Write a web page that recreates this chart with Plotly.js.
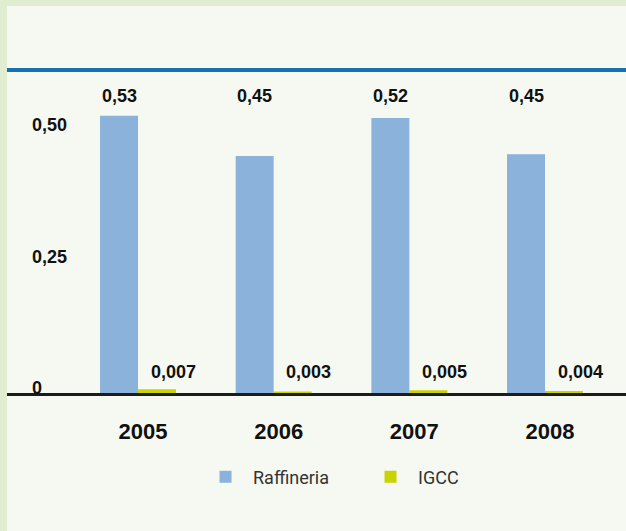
<!DOCTYPE html>
<html><head><meta charset="utf-8">
<script src="https://cdn.plot.ly/plotly-3.0.1.min.js"></script>
<style>
html,body{margin:0;padding:0;background:#e0edd1;width:626px;height:531px;overflow:hidden}
#chart{position:absolute;left:7px;top:6px;width:619px;height:525px}
</style></head>
<body><div id="chart"></div>
<script>
const years = ['2005', '2006', '2007', '2008'];
const raffineria = [0.526, 0.450, 0.522, 0.453];
const igcc = [0.007, 0.003, 0.005, 0.004];
const raffineriaLabels = ['0,53', '0,45', '0,52', '0,45'];
const igccLabels = ['0,007', '0,003', '0,005', '0,004'];
const yTickVals = [0, 0.25, 0.5];
const yTickText = ['0', '0,25', '0,50'];
const seriesNames = ['Raffineria', 'IGCC'];

const boldFont = 'Liberation Sans, Arial, sans-serif';

const traces = [
  {type: 'bar', name: seriesNames[0], x: years, y: raffineria,
   marker: {color: '#8ab2db'}, hoverinfo: 'skip'},
  {type: 'bar', name: seriesNames[1], x: years, y: igcc,
   marker: {color: '#c9d300'}, hoverinfo: 'skip'}
];

const annotations = [];
years.forEach((yr, i) => {
  annotations.push({x: i, xref: 'x', y: 0.921, yref: 'paper', yanchor: 'middle',
    text: '<b>' + raffineriaLabels[i] + '</b>', showarrow: false, xshift: -19,
    font: {family: boldFont, size: 18, color: '#111111'}});
  annotations.push({x: i, xref: 'x', y: 0.065, yref: 'paper', yanchor: 'middle',
    text: '<b>' + igccLabels[i] + '</b>', showarrow: false, xshift: 35,
    font: {family: boldFont, size: 18, color: '#111111'}});
});

const layout = {
  width: 619, height: 525,
  margin: {l: 0, r: 0, t: 64, b: 138, pad: 0},
  paper_bgcolor: '#f6f9f1', plot_bgcolor: 'rgba(0,0,0,0)',
  barmode: 'group', bargap: 0.44, bargroupgap: 0,
  showlegend: true,
  legend: {orientation: 'h', x: 0.3086, xanchor: 'left', y: -0.26, yanchor: 'middle',
    bgcolor: 'rgba(0,0,0,0)', entrywidth: 105, entrywidthmode: 'pixels', itemwidth: 45,
    font: {family: 'Roboto, sans-serif', size: 18, color: '#333'}},
  xaxis: {type: 'category', range: [-0.9656, 3.597], showgrid: false, zeroline: false,
    showline: true, linecolor: '#1c1c1c', linewidth: 3, ticks: '',
    ticklabelshift: 5, ticklabelstandoff: 17,
    tickfont: {family: boldFont, size: 22, color: '#111', weight: 'bold'}},
  yaxis: {range: [0, 0.613], showgrid: false, zeroline: false, showline: false, ticks: '',
    tickvals: yTickVals, ticktext: yTickText, ticklabelposition: 'inside',
    ticklabeloverflow: 'allow',
    ticklabelstandoff: 22, ticklabelshift: -5,
    tickfont: {family: boldFont, size: 18, color: '#111', weight: 'bold'}},
  shapes: [{type: 'line', xref: 'paper', yref: 'paper', x0: 0, x1: 1, y0: 1, y1: 1,
    line: {color: '#1572b6', width: 4}}],
  annotations: annotations
};

Plotly.newPlot('chart', traces, layout, {displayModeBar: false, staticPlot: true});
</script>
</body></html>
